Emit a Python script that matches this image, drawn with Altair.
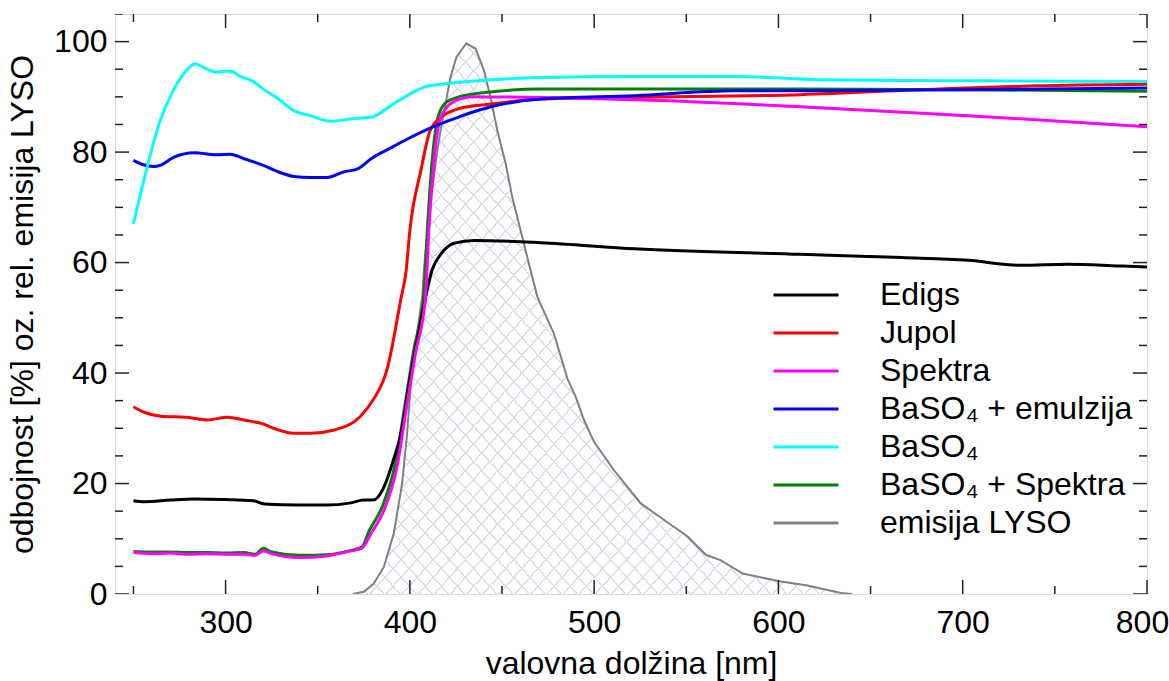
import altair as alt
import pandas as pd

# Reflectance spectra [%] per sample: wavelength (nm) and value lists
EDIGS_NM = [250, 256, 270, 283, 300, 315, 321, 339, 355, 368, 375, 380, 386, 391, 396, 399,
            403, 408, 412, 417, 424, 435, 471, 522, 612, 667, 703, 732, 757, 784, 800]
EDIGS = [16.9, 16.7, 17.0, 17.2, 17.1, 16.9, 16.3, 16.1, 16.1, 16.5, 17.0, 17.0, 19.4, 24.2, 30.3, 36.9,
         44.1, 52.8, 58.6, 61.6, 63.5, 64.0, 63.6, 62.5, 61.5, 60.9, 60.4, 59.5, 59.7, 59.4, 59.2]

JUPOL_NM = [250, 255, 265, 279, 290, 301, 310, 321, 326, 337, 346, 359, 373, 380, 388, 393,
            395, 398, 400, 406, 411, 417, 426, 444, 471, 522, 612, 685, 739, 800]
JUPOL = [33.9, 33.0, 32.2, 32.0, 31.5, 32.0, 31.5, 30.7, 30.0, 29.1, 29.1, 29.7, 32.1, 35.1, 41.1, 49.5,
         53.2, 58.6, 65.8, 76.7, 83.9, 86.3, 87.8, 88.7, 89.6, 89.9, 90.4, 91.4, 92.0, 92.3]

SPEKTRA_NM = [250, 260, 270, 280, 290, 300, 310, 316, 320.5, 325, 340, 355, 368, 374, 379, 386,
              393, 398.5, 403, 408.5, 410.3, 413, 415.7, 419.3, 424.8, 434.7, 471, 540, 612, 703, 800]
SPEKTRA = [7.5, 7.3, 7.4, 7.2, 7.3, 7.2, 7.2, 7.0, 7.8, 7.3, 6.6, 6.9, 7.8, 8.3, 11.0, 15.2,
           23.0, 34.5, 43.5, 53.8, 65.8, 77.9, 85.1, 87.8, 89.3, 90.0, 89.9, 89.3, 88.2, 86.6, 84.6]

EMUL_NM = [250, 254.5, 261, 264.5, 272, 283, 295, 302.5, 310, 320.5, 328, 337, 346, 355, 364, 372,
           379, 391, 400, 408, 426, 444, 471, 522, 576, 623, 700, 800]
EMUL = [78.5, 77.8, 77.4, 77.6, 79.1, 79.9, 79.5, 79.6, 78.8, 77.6, 76.5, 75.6, 75.4, 75.4, 76.4, 77.0,
        78.8, 81.0, 82.6, 83.9, 86.3, 88.2, 89.6, 90.2, 91.1, 91.1, 91.3, 91.6]

BASO4_NM = [250, 257, 264.5, 272, 278, 283.5, 287, 295, 302.5, 308, 315, 320.5, 328, 337, 346, 357,
            368, 380, 389.5, 400, 408, 417, 444, 471, 522, 576, 623, 703, 800]
BASO4 = [67.0, 76.7, 85.7, 91.4, 94.5, 96.0, 95.5, 94.5, 94.7, 93.7, 92.8, 91.4, 89.8, 87.5, 86.6, 85.6,
         86.0, 86.4, 88.4, 90.5, 91.8, 92.3, 93.1, 93.5, 93.7, 93.7, 93.1, 92.9, 92.8]

BSPEK_NM = [250, 260, 270, 280, 290, 300, 310, 316, 320.5, 325, 340, 355, 368, 374, 378, 385,
            392, 397.5, 402, 407.5, 409.5, 412, 415, 419, 425.7, 443.8, 471, 522, 612, 703, 800]
BSPEK = [7.7, 7.6, 7.6, 7.5, 7.5, 7.4, 7.5, 7.2, 8.3, 7.6, 7.0, 7.1, 7.9, 8.5, 11.5, 15.8,
         23.5, 34.5, 44.0, 54.0, 66.0, 78.0, 86.0, 88.8, 89.9, 90.9, 91.4, 91.4, 91.4, 91.3, 91.0]

# Relative LYSO emission spectrum
LYSO_NM = [369, 375, 380.4, 385.9, 391.3, 395.8, 398.5, 401.2, 406.7, 407.9, 409.7, 411.6, 413.9,
           416.6, 420, 422, 425.3, 430.6, 435.7, 440.2, 443.8, 447.4, 452, 455.6, 460.1, 464.6,
           469.2, 478.2, 485.5, 490, 494.5, 500, 510.8, 525.3, 538, 550.7, 560.6, 568.8, 580.6,
           600.5, 615, 634, 640]
LYSO = [0, 0.4, 1.9, 4.9, 11.0, 20.0, 29.1, 41.1, 53.8, 59.8, 65.8, 71.8, 77.9,
        83.9, 89.9, 93.5, 97.2, 99.7, 98.7, 94.8, 89.9, 84.0, 77.9, 71.8, 65.8, 59.8,
        53.8, 47.1, 39.0, 35.7, 31.5, 27.5, 22.4, 16.4, 13.4, 10.4, 7.1, 6.1, 3.7,
        2.3, 1.6, 0.2, 0]

NAMES = ["Edigs", "Jupol", "Spektra", "BaSO₄ + emulzija", "BaSO₄", "BaSO₄ + Spektra", "emisija LYSO"]
COLORS = ["#000000", "#ff0000", "#ff00ff", "#0000ff", "#00ffff", "#008000", "#808080"]

X_MAJOR = [300, 400, 500, 600, 700, 800]
X_MINOR = [250, 350, 450, 550, 650, 750]
Y_MAJOR = [0, 20, 40, 60, 80, 100]
Y_MINOR = [5, 10, 15, 25, 30, 35, 45, 50, 55, 65, 70, 75, 85, 90, 95, 105]

W, H = 1032, 580
FONT = "Liberation Sans"
FS = 32

series = [
    ("BaSO₄ + Spektra", BSPEK_NM, BSPEK),
    ("Edigs", EDIGS_NM, EDIGS),
    ("Jupol", JUPOL_NM, JUPOL),
    ("Spektra", SPEKTRA_NM, SPEKTRA),
    ("BaSO₄ + emulzija", EMUL_NM, EMUL),
    ("BaSO₄", BASO4_NM, BASO4),
]
rows = []
for order, (name, xs, ys) in enumerate(series):
    for i, (x, y) in enumerate(zip(xs, ys)):
        rows.append({"name": name, "nm": x, "r": y, "k": order * 1000 + i})
spectra = pd.DataFrame(rows)
lyso = pd.DataFrame({"nm": LYSO_NM, "r": LYSO, "name": "emisija LYSO"})

x_scale = alt.Scale(domain=[240, 800], nice=False, zero=False)
y_scale = alt.Scale(domain=[0, 105], nice=False)
color_scale = alt.Scale(domain=NAMES, range=COLORS)

# the last x label is nudged left so it stays inside the figure
x_axis = alt.Axis(values=X_MAJOR, ticks=False, domain=False, grid=False, labelFlush=False,
                  labelOffset={"condition": {"test": "datum.value == 800", "value": -5}, "value": 0},
                  labelFontSize=FS, labelFont=FONT, labelColor="black", labelPadding=13,
                  title="valovna dolžina [nm]", titleFontSize=FS, titleFont=FONT,
                  titleFontWeight="normal", titleColor="black", titlePadding=10)
y_axis = alt.Axis(values=Y_MAJOR, ticks=False, domain=False, grid=False, labelFlush=False,
                  labelFontSize=FS, labelFont=FONT, labelColor="black", labelPadding=8,
                  title="odbojnost [%] oz. rel. emisija LYSO", titleFontSize=FS,
                  titleFont=FONT, titleFontWeight="normal", titleColor="black",
                  titlePadding=14)


def hatch(x1, y1, x2, y2, n=62, frac=0.12):
    line = "rgba(220,220,236,1)"
    clear = "rgba(220,220,236,0)"
    stops = []
    for k in range(n):
        a, b, c = k / n, (k + frac) / n, (k + 1) / n
        stops += [alt.GradientStop(color=line, offset=a), alt.GradientStop(color=line, offset=b),
                  alt.GradientStop(color=clear, offset=b), alt.GradientStop(color=clear, offset=min(c, 1.0))]
    return alt.LinearGradient(gradient="linear", stops=stops, x1=x1, y1=y1, x2=x2, y2=y2)


xq = alt.X("nm:Q", scale=x_scale, axis=x_axis)
yq = alt.Y("r:Q", scale=y_scale, axis=y_axis)

hatch_a = alt.Chart(lyso).mark_area(fill=hatch(0, 0, 1, 1), clip=True).encode(x=xq, y=yq)
hatch_b = alt.Chart(lyso).mark_area(fill=hatch(1, 0, 0, 1), clip=True).encode(x=xq, y=yq)

legend = alt.Legend(
    title=None, orient="none", legendX=657, legendY=262, padding=0,
    symbolType="stroke", symbolSize=4225, symbolStrokeWidth=3,
    labelFontSize=FS, labelFont=FONT, labelColor="black", labelOffset=40,
    clipHeight=38, rowPadding=0, labelLimit=400,
)

lyso_line = alt.Chart(lyso).mark_line(strokeWidth=2, clip=True).encode(
    x=xq, y=yq, color=alt.Color("name:N", scale=color_scale, legend=legend)
)

lines = alt.Chart(spectra).mark_line(strokeWidth=3, clip=True, interpolate="monotone").encode(
    x=xq, y=yq,
    color=alt.Color("name:N", scale=color_scale, legend=legend),
    detail="name:N",
    order="k:Q",
)

TICK = "#222222"
xmaj = pd.DataFrame({"v": X_MAJOR})
xmin = pd.DataFrame({"v": X_MINOR})
ymaj = pd.DataFrame({"v": Y_MAJOR})
ymin = pd.DataFrame({"v": Y_MINOR})


def xticks(df, y0, y1):
    return alt.Chart(df).mark_rule(color=TICK, strokeWidth=1.5).encode(
        x=alt.X("v:Q", scale=x_scale, axis=x_axis), y=alt.value(y0), y2=alt.value(y1))


def yticks(df, x0, x1):
    return alt.Chart(df).mark_rule(color=TICK, strokeWidth=1.5, clip=True).encode(
        y=alt.Y("v:Q", scale=y_scale, axis=y_axis), x=alt.value(x0), x2=alt.value(x1))


ticks = [
    xticks(xmaj, H, H - 14), xticks(xmin, H, H - 8), xticks(xmaj, 0, 14), xticks(xmin, 0, 8),
    yticks(ymaj, 0, 14), yticks(ymin, 0, 8), yticks(ymaj, W, W - 14), yticks(ymin, W, W - 8),
]

chart = alt.layer(hatch_a, hatch_b, lyso_line, lines, *ticks).properties(
    width=W, height=H,
    padding={"left": 115, "top": 14, "right": 22, "bottom": 87},
    autosize=alt.AutoSizeParams(type="none"),
).configure_view(stroke="#222222", strokeWidth=1.5).configure(font=FONT)

chart.save("out.html", embed_options={"renderer": "svg", "actions": False})
